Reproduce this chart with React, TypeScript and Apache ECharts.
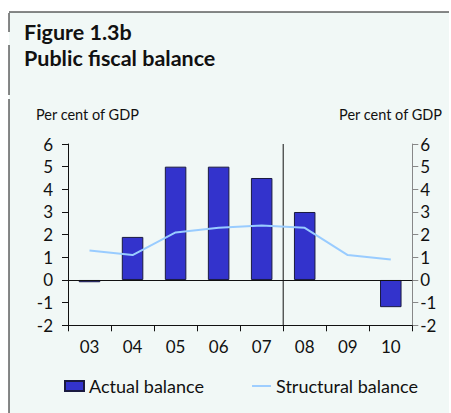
import React, { useEffect, useRef } from "react";
import * as echarts from "echarts";

const categories = ["03", "04", "05", "06", "07", "08", "09", "10"];
const actualBalance: (number | null)[] = [-0.1, 1.9, 5.0, 5.0, 4.5, 3.0, null, -1.2];
const structuralBalance = [1.3, 1.1, 2.1, 2.3, 2.4, 2.3, 1.1, 0.9];
const yMin = -2;
const yMax = 6;
const forecastBoundary = 5; // boundary between 07 and 08 (category index)

const FONT = "Lato";

export default function App() {
  const ref = useRef<HTMLDivElement>(null);
  useEffect(() => {
    document.body.style.margin = "0";
    const chart = echarts.init(ref.current!, null, { renderer: "svg" });
    const axisLabel = { color: "#111", fontSize: 17, fontFamily: FONT };
    const txt = (text: string, x: number, y: number, size: number, bold: boolean, align = "left") => ({
      type: "text",
      x,
      y,
      style: {
        text,
        fontSize: size,
        fontWeight: bold ? "bold" : "normal",
        fontFamily: FONT,
        fill: "#111",
        align,
        verticalAlign: "middle",
      },
    });
    chart.setOption({
      animation: false,
      backgroundColor: "#ffffff",
      textStyle: { fontFamily: FONT },
      graphic: [
        { type: "rect", shape: { x: 9, y: 12, width: 440, height: 401 }, style: { fill: "#f1f8f6" }, z: -10 },
        { type: "line", shape: { x1: 9, y1: 12, x2: 449, y2: 12 }, style: { stroke: "#111", lineWidth: 1 } },
        { type: "line", shape: { x1: 9, y1: 13, x2: 9, y2: 32 }, style: { stroke: "#111", lineWidth: 1 } },
        { type: "line", shape: { x1: 9, y1: 45, x2: 9, y2: 95 }, style: { stroke: "#111", lineWidth: 1 } },
        { type: "line", shape: { x1: 9, y1: 99, x2: 9, y2: 413 }, style: { stroke: "#111", lineWidth: 1 } },
        txt("Figure 1.3b", 24, 32, 21.5, true),
        txt("Public fiscal balance", 24, 58, 21.5, true),
        txt("Per cent of GDP", 36, 114, 14.5, false),
        txt("Per cent of GDP", 442, 114, 14.5, false, "right"),
      ],
      grid: { left: 68, right: 38.7, top: 144, bottom: 87.7 },
      legend: {
        left: 59,
        top: 372,
        itemWidth: 19,
        itemHeight: 10,
        itemGap: 48,
        textStyle: { fontSize: 18, color: "#111", fontFamily: FONT },
        data: [
          { name: "Actual balance", icon: "rect" },
          {
            name: "Structural balance",
            icon: "path://M0,0 L20,0 L20,2 L0,2 Z",
            itemStyle: { color: "#99ccff", borderWidth: 0 },
          },
        ],
      },
      xAxis: [
        {
          type: "category",
          data: categories,
          boundaryGap: true,
          axisLine: { show: true, onZero: false, lineStyle: { color: "#111", width: 1 } },
          axisTick: { show: true, length: 6, alignWithLabel: false, lineStyle: { color: "#111" } },
          axisLabel: { ...axisLabel, margin: 13 },
          splitLine: { show: false },
        },
        {
          type: "value",
          min: 0,
          max: categories.length,
          show: false,
          position: "top",
        },
      ],
      yAxis: [
        {
          type: "value",
          min: yMin,
          max: yMax,
          interval: 1,
          position: "left",
          axisLine: { show: true, lineStyle: { color: "#111" } },
          axisTick: { show: true, length: 6, lineStyle: { color: "#111" } },
          axisLabel: { ...axisLabel, margin: 15 },
          splitLine: { show: false },
        },
        {
          type: "value",
          min: yMin,
          max: yMax,
          interval: 1,
          position: "right",
          axisLine: { show: true, lineStyle: { color: "#888" } },
          axisTick: { show: true, length: 6, lineStyle: { color: "#888" } },
          axisLabel: { ...axisLabel, margin: 8 },
          splitLine: { show: false },
        },
      ],
      series: [
        {
          name: "Actual balance",
          type: "bar",
          data: actualBalance,
          barWidth: "50%",
          itemStyle: { color: "#3333cc", borderColor: "#1a1a40", borderWidth: 1 },
          markLine: {
            silent: true,
            symbol: "none",
            label: { show: false },
            lineStyle: { color: "#111", type: "solid", width: 1 },
            data: [{ yAxis: 0 }],
          },
          z: 2,
        },
        {
          name: "Structural balance",
          type: "line",
          data: structuralBalance,
          symbol: "none",
          lineStyle: { color: "#99ccff", width: 2 },
          itemStyle: { color: "#99ccff" },
          z: 3,
        },
        {
          name: "boundary",
          type: "line",
          xAxisIndex: 1,
          yAxisIndex: 0,
          data: [
            [forecastBoundary, yMin],
            [forecastBoundary, yMax],
          ],
          symbol: "none",
          lineStyle: { color: "#111", width: 1 },
          silent: true,
          z: 1,
        },
      ],
    });
    return () => chart.dispose();
  }, []);
  return <div ref={ref} style={{ width: 451, height: 413 }} />;
}
